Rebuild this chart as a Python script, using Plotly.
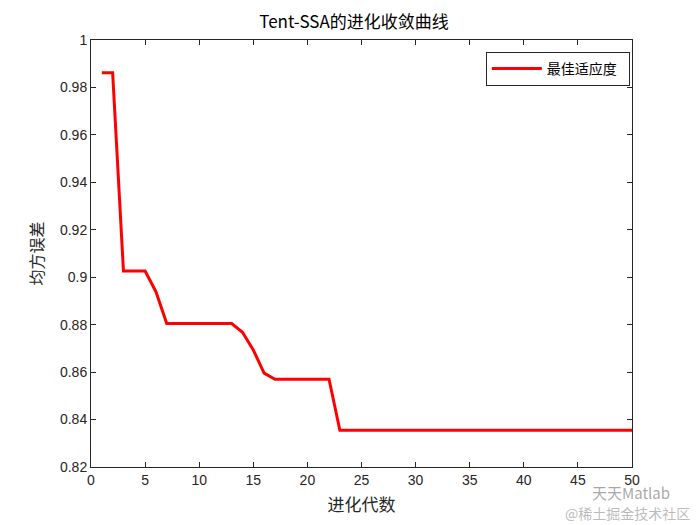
import plotly.graph_objects as go

generations = list(range(1, 51))
best_fitness = [0.9862, 0.9862, 0.9026, 0.9026, 0.9026, 0.8939, 0.8805, 0.8805, 0.8805, 0.8805,
                0.8805, 0.8805, 0.8805, 0.8768, 0.8693, 0.8596, 0.8570, 0.8570, 0.8570, 0.8570,
                0.8570, 0.8570] + [0.8355] * 28

x_ticks = [0, 5, 10, 15, 20, 25, 30, 35, 40, 45, 50]
y_ticks = [0.82, 0.84, 0.86, 0.88, 0.90, 0.92, 0.94, 0.96, 0.98, 1.0]
y_tick_labels = ["0.82", "0.84", "0.86", "0.88", "0.9", "0.92", "0.94", "0.96", "0.98", "1"]

font_lat = "Liberation Sans, Arial, sans-serif"
font_cjk = "Noto Sans CJK SC"

fig = go.Figure()
fig.add_trace(go.Scatter(x=generations, y=best_fitness, mode="lines", name="最佳适应度  ",
                         line=dict(color="#ff0000", width=3)))

axis_common = dict(showgrid=False, zeroline=False, showline=True, linecolor="#262626", linewidth=1,
                   mirror="ticks", ticks="inside", ticklen=5, tickcolor="#262626",
                   tickfont=dict(family=font_lat, size=14, color="#262626"))

fig.update_xaxes(range=[0, 50], tickvals=x_ticks, **axis_common,
                 title=dict(text="进化代数", font=dict(family=font_cjk, size=17, color="#262626"), standoff=12))
fig.update_yaxes(range=[0.82, 1.0], tickvals=y_ticks, ticktext=y_tick_labels, **axis_common,
                 title=dict(text="均方误差", font=dict(family=font_cjk, size=16, color="#262626"), standoff=12))

fig.update_layout(
    width=692, height=517,
    margin=dict(l=83, r=68, t=32, b=58),
    paper_bgcolor="white", plot_bgcolor="white",
    title=dict(text="Tent-SSA的进化收敛曲线", x=0.5, xanchor="center", y=0.973, yanchor="middle",
               font=dict(family=font_cjk, size=17, color="#000000")),
    legend=dict(x=0.996, y=0.972, xanchor="right", yanchor="top", bgcolor="white",
                bordercolor="#262626", borderwidth=1, itemwidth=50,
                font=dict(family=font_cjk, size=14, color="#000000")),
    showlegend=True,
)

fig.add_annotation(text="天天Matlab", x=0.922, y=-0.06, xref="paper", yref="paper", showarrow=False,
                   xanchor="left", yanchor="middle",
                   font=dict(family=font_cjk, size=15, color="rgba(140,140,140,0.75)"))
fig.add_annotation(text="@稀土掘金技术社区", x=0.872, y=-0.108, xref="paper", yref="paper", showarrow=False,
                   xanchor="left", yanchor="middle",
                   font=dict(family=font_cjk, size=14, color="rgba(165,165,165,0.75)"))

fig.write_html("out.html")
